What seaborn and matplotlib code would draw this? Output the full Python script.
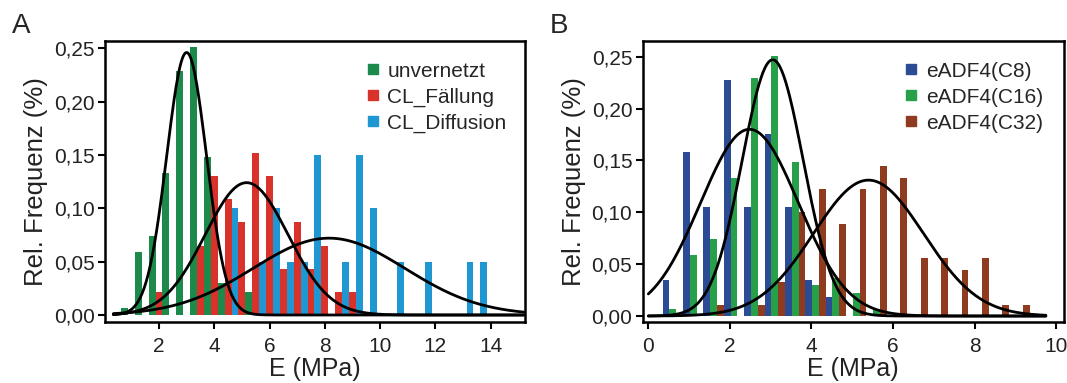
import numpy as np
import pandas as pd
import seaborn as sns
import matplotlib.pyplot as plt
from matplotlib.lines import Line2D

# ---- Panel A: Histogramme (Bin-Mitte in MPa, rel. Frequenz) ----
a_unv_bins = [1.0, 1.5, 2.0, 2.5, 3.0, 3.5, 4.0, 4.5, 5.0, 5.5, 6.0]
a_unv_freq = [0.007, 0.059, 0.074, 0.133, 0.229, 0.251, 0.148, 0.030, 0.037, 0.022, 0.007]
a_fall_bins = [2.0, 3.5, 4.0, 4.5, 5.0, 5.5, 6.0, 6.5, 7.0, 7.5, 8.0, 8.5, 9.0]
a_fall_freq = [0.022, 0.065, 0.130, 0.109, 0.087, 0.152, 0.130, 0.043, 0.087, 0.043, 0.065, 0.022, 0.022]
a_diff_bins = [4.5, 5.5, 6.0, 6.5, 7.0, 7.5, 8.5, 9.0, 9.5, 10.5, 11.5, 13.0, 13.5]
a_diff_freq = [0.10, 0.05, 0.10, 0.05, 0.05, 0.15, 0.05, 0.15, 0.10, 0.05, 0.05, 0.05, 0.05]
a_labels = ['unvernetzt', 'CL_Fällung', 'CL_Diffusion']
a_colors = ['#1b8a4a', '#d8322b', '#1f97d3']
# Gauss-Fits: Mittelwert, Sigma, Maximum
a_fit_mean = [3.0, 5.17, 8.15]
a_fit_sd = [0.72, 1.5, 2.75]
a_fit_peak = [0.246, 0.124, 0.072]

# ---- Panel B ----
b_c8_bins = [0.6, 1.1, 1.6, 2.1, 2.6, 3.1, 3.6, 4.1, 4.6]
b_c8_freq = [0.035, 0.158, 0.105, 0.228, 0.105, 0.175, 0.105, 0.035, 0.018]
b_c16_bins = [0.6, 1.1, 1.6, 2.1, 2.6, 3.1, 3.6, 4.1, 4.6, 5.1, 5.6]
b_c16_freq = [0.007, 0.059, 0.074, 0.133, 0.229, 0.251, 0.148, 0.030, 0.037, 0.022, 0.007]
b_c32_bins = [1.6, 2.6, 3.1, 3.6, 4.1, 4.6, 5.1, 5.6, 6.1, 6.6, 7.1, 7.6, 8.1, 8.6, 9.1]
b_c32_freq = [0.011, 0.011, 0.033, 0.100, 0.122, 0.089, 0.122, 0.145, 0.133, 0.056, 0.056, 0.044, 0.056, 0.011, 0.011]
b_labels = ['eADF4(C8)', 'eADF4(C16)', 'eADF4(C32)']
b_colors = ['#2c4b95', '#28a049', '#8e3b1f']
b_fit_mean = [2.48, 3.05, 5.4]
b_fit_sd = [1.2, 0.75, 1.35]
b_fit_peak = [0.18, 0.247, 0.131]

sns.set_style('white')
plt.rcParams['font.family'] = ['Liberation Sans', 'DejaVu Sans']

df_a = pd.concat([
    pd.DataFrame({'E': a_unv_bins, 'f': a_unv_freq, 'probe': a_labels[0]}),
    pd.DataFrame({'E': a_fall_bins, 'f': a_fall_freq, 'probe': a_labels[1]}),
    pd.DataFrame({'E': a_diff_bins, 'f': a_diff_freq, 'probe': a_labels[2]}),
])
df_b = pd.concat([
    pd.DataFrame({'E': b_c8_bins, 'f': b_c8_freq, 'probe': b_labels[0]}),
    pd.DataFrame({'E': b_c16_bins, 'f': b_c16_freq, 'probe': b_labels[1]}),
    pd.DataFrame({'E': b_c32_bins, 'f': b_c32_freq, 'probe': b_labels[2]}),
])

fig = plt.figure(figsize=(10.67, 3.83), dpi=100)
ax1 = fig.add_axes([0.0984, 0.160, 0.3936, 0.7337])
ax2 = fig.add_axes([0.6024, 0.160, 0.3946, 0.7337])

sns.barplot(data=df_a, x='E', y='f', hue='probe', hue_order=a_labels, palette=a_colors,
            native_scale=True, width=1.5, dodge=True, errorbar=None, legend=False,
            saturation=1, linewidth=0, ax=ax1)
sns.barplot(data=df_b, x='E', y='f', hue='probe', hue_order=b_labels, palette=b_colors,
            native_scale=True, width=1.0, gap=0.0, dodge=True, errorbar=None, legend=False,
            saturation=1, linewidth=0, ax=ax2)

xa = np.linspace(0.35, 15.2, 400)
for m, s, p in zip(a_fit_mean, a_fit_sd, a_fit_peak):
    sns.lineplot(x=xa, y=p * np.exp(-(xa - m) ** 2 / (2 * s ** 2)), color='black', lw=2, ax=ax1)
xb = np.linspace(0.0, 9.75, 400)
for m, s, p in zip(b_fit_mean, b_fit_sd, b_fit_peak):
    sns.lineplot(x=xb, y=p * np.exp(-(xb - m) ** 2 / (2 * s ** 2)), color='black', lw=2, ax=ax2)

ax1.set_xlim(0.047, 15.24)
ax1.set_ylim(-0.0063, 0.257)
ax1.set_xticks([2, 4, 6, 8, 10, 12, 14])
ax2.set_xlim(-0.137, 10.19)
ax2.set_ylim(-0.0055, 0.2654)
ax2.set_xticks([0, 2, 4, 6, 8, 10])

yt = [0, 0.05, 0.10, 0.15, 0.20, 0.25]
for ax, labels, colors in [(ax1, a_labels, a_colors), (ax2, b_labels, b_colors)]:
    ax.set_yticks(yt)
    ax.set_yticklabels([f'{v:.2f}'.replace('.', ',') for v in yt])
    ax.tick_params(direction='out', length=5, width=1.5, labelsize=15, pad=2.5,
                   left=True, bottom=True, color='black', labelcolor='#222222')
    ax.tick_params(axis='x', pad=6)
    for sp in ax.spines.values():
        sp.set_linewidth(1.8)
        sp.set_color('black')
    ax.set_xlabel('E (MPa)', fontsize=18, labelpad=1, color='#222222')
    ax.set_ylabel('Rel. Frequenz (%)', fontsize=18.5, labelpad=4, color='#222222')
    handles = [Line2D([], [], marker='s', ls='none', color=c, markersize=7) for c in colors]
    ax.legend(handles, labels, loc='upper left', bbox_to_anchor=(0.62, 0.925), frameon=False,
              fontsize=15, handlelength=0.7, handletextpad=0.35, labelspacing=0.33,
              borderpad=0, borderaxespad=0)

fig.text(0.011, 0.965, 'A', fontsize=20, va='top', ha='left')
fig.text(0.515, 0.965, 'B', fontsize=20, va='top', ha='left')

fig.savefig('out.png', dpi=100)
